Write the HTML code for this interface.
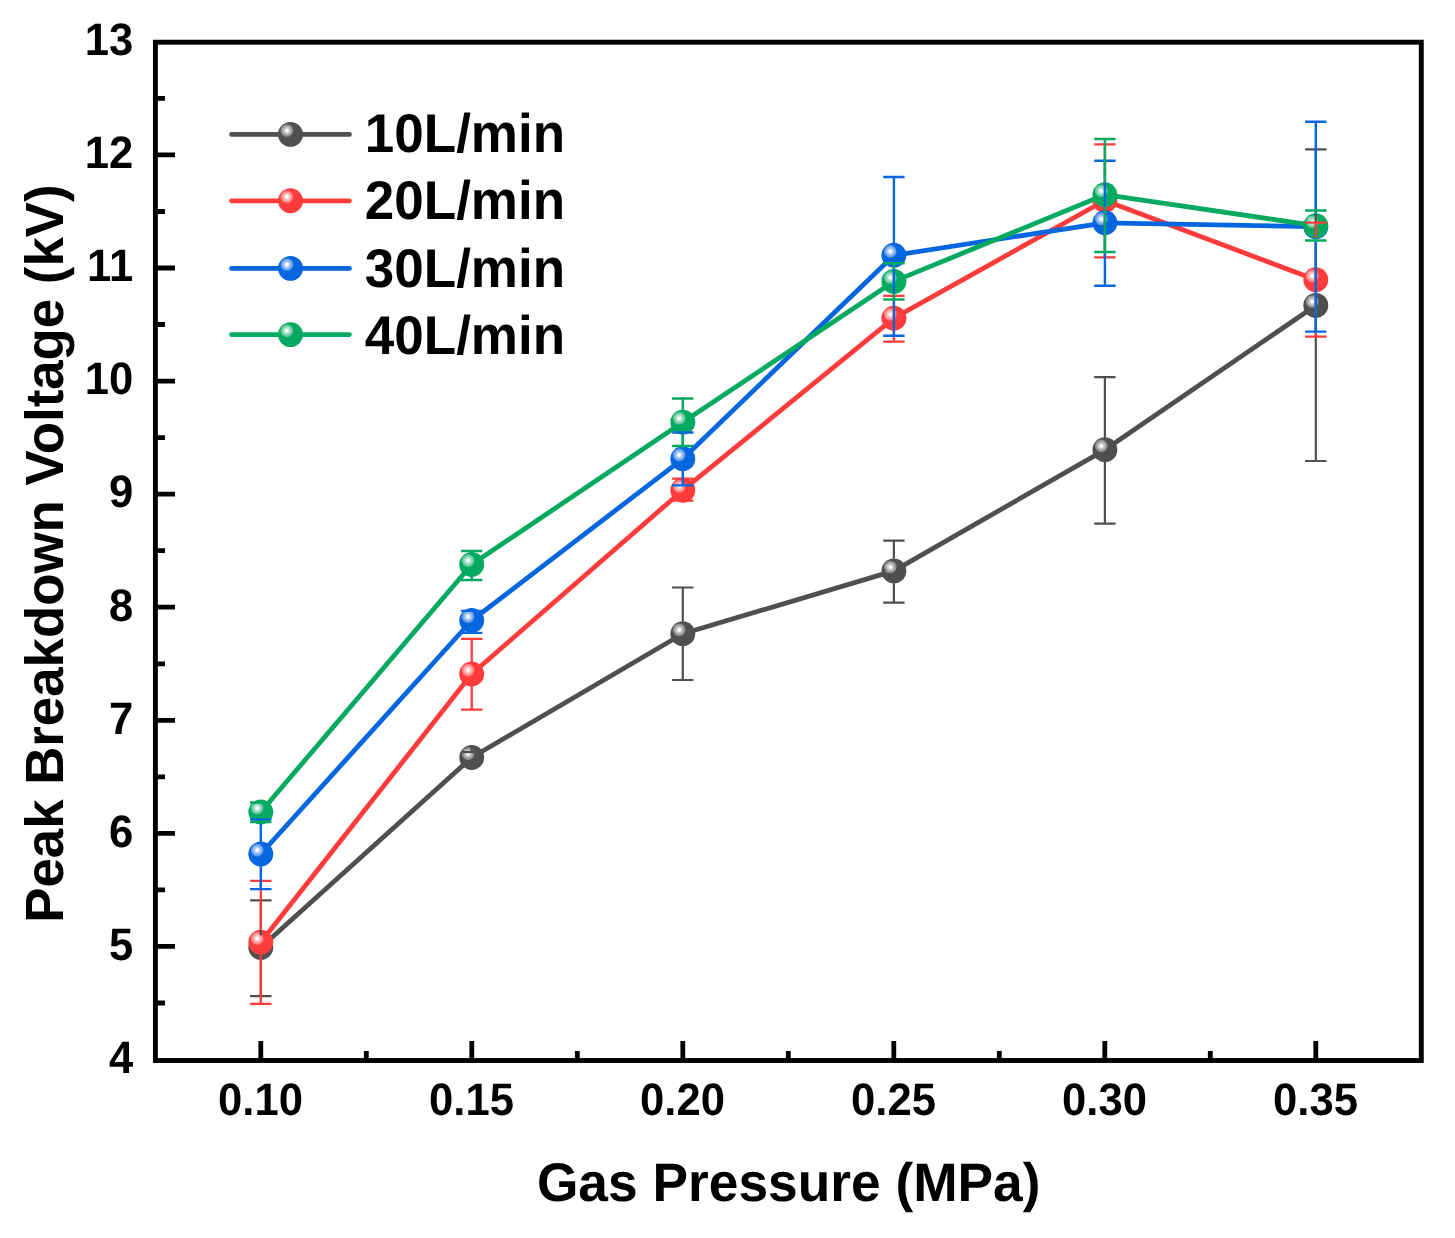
<!DOCTYPE html>
<html lang="en"><head><meta charset="utf-8">
<title>Peak Breakdown Voltage vs Gas Pressure</title>
<style>
html,body{margin:0;padding:0;background:#fff;}
body{width:1455px;height:1238px;overflow:hidden;}
svg{display:block;}
text{font-family:"Liberation Sans", Arial, Helvetica, sans-serif;font-weight:700;fill:#000;text-rendering:geometricPrecision;}
svg{will-change:transform;}
</style></head><body>
<svg width="1455" height="1238" viewBox="0 0 1455 1238">
<rect x="0" y="0" width="1455" height="1238" fill="#ffffff"/>
<defs>
<radialGradient id="hk" cx="50%" cy="50%" r="50%">
<stop offset="0" stop-color="#ffffff"/>
<stop offset="0.20" stop-color="#ffffff"/>
<stop offset="0.38" stop-color="#cacaca"/>
<stop offset="0.64" stop-color="#b5b5b5"/>
<stop offset="0.72" stop-color="#999999"/>
<stop offset="1" stop-color="#8d8d8d"/>
</radialGradient>
<g id="mk"><circle cx="0" cy="0" r="12.45" fill="#4f4f4f"/><circle cx="-3.6" cy="-3.9" r="6.3" fill="url(#hk)"/></g>
<radialGradient id="hr" cx="50%" cy="50%" r="50%">
<stop offset="0" stop-color="#ffffff"/>
<stop offset="0.20" stop-color="#ffffff"/>
<stop offset="0.38" stop-color="#ffc4c4"/>
<stop offset="0.64" stop-color="#ffadad"/>
<stop offset="0.72" stop-color="#ff8d8d"/>
<stop offset="1" stop-color="#ff8080"/>
</radialGradient>
<g id="mr"><circle cx="0" cy="0" r="12.45" fill="#ff3b3b"/><circle cx="-3.6" cy="-3.9" r="6.3" fill="url(#hr)"/></g>
<radialGradient id="hb" cx="50%" cy="50%" r="50%">
<stop offset="0" stop-color="#ffffff"/>
<stop offset="0.20" stop-color="#ffffff"/>
<stop offset="0.38" stop-color="#b4d1f6"/>
<stop offset="0.64" stop-color="#96bff2"/>
<stop offset="0.72" stop-color="#6fa6ed"/>
<stop offset="1" stop-color="#5d9ceb"/>
</radialGradient>
<g id="mb"><circle cx="0" cy="0" r="12.45" fill="#0666e0"/><circle cx="-3.6" cy="-3.9" r="6.3" fill="url(#hb)"/></g>
<radialGradient id="hg" cx="50%" cy="50%" r="50%">
<stop offset="0" stop-color="#ffffff"/>
<stop offset="0.20" stop-color="#ffffff"/>
<stop offset="0.38" stop-color="#b4e5cf"/>
<stop offset="0.64" stop-color="#96dbbc"/>
<stop offset="0.72" stop-color="#6ecda3"/>
<stop offset="1" stop-color="#5cc798"/>
</radialGradient>
<g id="mg"><circle cx="0" cy="0" r="12.45" fill="#05a960"/><circle cx="-3.6" cy="-3.9" r="6.3" fill="url(#hg)"/></g>
</defs>
<polyline points="260.8,947.5 471.7,757.5 682.8,633.7 893.9,570.9 1104.9,449.8 1315.8,305.4" fill="none" stroke="#4f4f4f" stroke-width="4.8" stroke-linejoin="round" stroke-linecap="round"/>
<use href="#mk" x="260.8" y="947.5"/>
<use href="#mk" x="471.7" y="757.5"/>
<use href="#mk" x="682.8" y="633.7"/>
<use href="#mk" x="893.9" y="570.9"/>
<use href="#mk" x="1104.9" y="449.8"/>
<use href="#mk" x="1315.8" y="305.4"/>
<polyline points="260.8,942.3 471.7,674.0 682.8,490.2 893.9,318.2 1104.9,200.5 1315.8,279.8" fill="none" stroke="#ff3b3b" stroke-width="4.8" stroke-linejoin="round" stroke-linecap="round"/>
<use href="#mr" x="260.8" y="942.3"/>
<use href="#mr" x="471.7" y="674.0"/>
<use href="#mr" x="682.8" y="490.2"/>
<use href="#mr" x="893.9" y="318.2"/>
<use href="#mr" x="1104.9" y="200.5"/>
<use href="#mr" x="1315.8" y="279.8"/>
<polyline points="260.8,854.0 471.7,620.5 682.8,458.8 893.9,255.3 1104.9,222.8 1315.8,226.7" fill="none" stroke="#0666e0" stroke-width="4.8" stroke-linejoin="round" stroke-linecap="round"/>
<use href="#mb" x="260.8" y="854.0"/>
<use href="#mb" x="471.7" y="620.5"/>
<use href="#mb" x="682.8" y="458.8"/>
<use href="#mb" x="893.9" y="255.3"/>
<use href="#mb" x="1104.9" y="222.8"/>
<use href="#mb" x="1315.8" y="226.7"/>
<polyline points="260.8,812.0 471.7,564.5 682.8,422.2 893.9,281.4 1104.9,194.7 1315.8,225.7" fill="none" stroke="#05a960" stroke-width="4.8" stroke-linejoin="round" stroke-linecap="round"/>
<use href="#mg" x="260.8" y="812.0"/>
<use href="#mg" x="471.7" y="564.5"/>
<use href="#mg" x="682.8" y="422.2"/>
<use href="#mg" x="893.9" y="281.4"/>
<use href="#mg" x="1104.9" y="194.7"/>
<use href="#mg" x="1315.8" y="225.7"/>
<path d="M260.8 900.3V935.4M260.8 959.6V996.1M250.1 900.3H271.5M250.1 996.1H271.5M471.7 752.1V745.4M471.7 769.6V762.9M461.0 752.1H482.4M461.0 762.9H482.4M682.8 587.5V621.6M682.8 645.9V680.0M672.1 587.5H693.5M672.1 680.0H693.5M893.9 540.7V558.8M893.9 583.0V602.7M883.2 540.7H904.6M883.2 602.7H904.6M1104.9 377.2V437.7M1104.9 461.9V523.7M1094.2 377.2H1115.6M1094.2 523.7H1115.6M1315.8 149.3V293.2M1315.8 317.5V461.0M1305.1 149.3H1326.5M1305.1 461.0H1326.5" fill="none" stroke="#4f4f4f" stroke-width="2.2"/>
<path d="M260.8 880.9V930.1M260.8 954.4V1003.8M250.1 880.9H271.5M250.1 1003.8H271.5M471.7 638.8V661.9M471.7 686.1V709.6M461.0 638.8H482.4M461.0 709.6H482.4M682.8 478.7V478.1M682.8 502.3V500.7M672.1 478.7H693.5M672.1 500.7H693.5M893.9 295.8V306.1M893.9 330.3V341.7M883.2 295.8H904.6M883.2 341.7H904.6M1104.9 144.4V188.3M1104.9 212.7V257.4M1094.2 144.4H1115.6M1094.2 257.4H1115.6M1315.8 222.7V267.7M1315.8 291.9V336.6M1305.1 222.7H1326.5M1305.1 336.6H1326.5" fill="none" stroke="#ff3b3b" stroke-width="2.3"/>
<path d="M260.8 819.4V841.9M260.8 866.1V889.1M250.1 819.4H271.5M250.1 889.1H271.5M471.7 610.9V608.4M461.0 610.9H482.4M461.0 632.9H482.4M682.8 432.5V446.7M682.8 470.9V485.4M672.1 432.5H693.5M672.1 485.4H693.5M893.9 177.0V243.2M893.9 267.4V335.7M883.2 177.0H904.6M883.2 335.7H904.6M1104.9 160.7V210.7M1104.9 235.0V285.7M1094.2 160.7H1115.6M1094.2 285.7H1115.6M1315.8 121.8V214.5M1315.8 238.8V331.6M1305.1 121.8H1326.5M1305.1 331.6H1326.5" fill="none" stroke="#0666e0" stroke-width="2.4"/>
<path d="M260.8 802.6V799.9M260.8 824.1V822.1M250.1 802.6H271.5M250.1 822.1H271.5M471.7 551.0V552.4M471.7 576.6V580.0M461.0 551.0H482.4M461.0 580.0H482.4M682.8 398.6V410.1M682.8 434.3V445.9M672.1 398.6H693.5M672.1 445.9H693.5M893.9 263.2V269.2M893.9 293.5V299.6M883.2 263.2H904.6M883.2 299.6H904.6M1104.9 138.9V182.5M1104.9 206.8V252.0M1094.2 138.9H1115.6M1094.2 252.0H1115.6M1315.8 210.6V213.5M1315.8 237.8V240.5M1305.1 210.6H1326.5M1305.1 240.5H1326.5" fill="none" stroke="#05a960" stroke-width="2.5"/>
<rect x="155.4" y="42.2" width="1265.9" height="1018.3" fill="none" stroke="#000" stroke-width="4.9"/>
<path d="M155.4 1003.0H165.0M155.4 946.4H175.0M155.4 889.9H165.0M155.4 833.4H175.0M155.4 776.8H165.0M155.4 720.3H175.0M155.4 663.8H165.0M155.4 607.2H175.0M155.4 550.7H165.0M155.4 494.2H175.0M155.4 437.6H165.0M155.4 381.1H175.0M155.4 324.5H165.0M155.4 268.0H175.0M155.4 211.5H165.0M155.4 154.9H175.0M155.4 98.4H165.0M260.8 1060.5V1040.9M471.8 1060.5V1040.9M682.8 1060.5V1040.9M893.8 1060.5V1040.9M1104.8 1060.5V1040.9M1315.8 1060.5V1040.9M366.3 1060.5V1050.9M577.3 1060.5V1050.9M788.3 1060.5V1050.9M999.3 1060.5V1050.9M1210.3 1060.5V1050.9" fill="none" stroke="#000" stroke-width="4.8"/>
<text transform="translate(133.20 1072.80) scale(1 1.045)" font-size="43.60" text-anchor="end">4</text>
<text transform="translate(133.20 959.73) scale(1 1.045)" font-size="43.60" text-anchor="end">5</text>
<text transform="translate(133.20 846.66) scale(1 1.045)" font-size="43.60" text-anchor="end">6</text>
<text transform="translate(133.20 733.59) scale(1 1.045)" font-size="43.60" text-anchor="end">7</text>
<text transform="translate(133.20 620.52) scale(1 1.045)" font-size="43.60" text-anchor="end">8</text>
<text transform="translate(133.20 507.45) scale(1 1.045)" font-size="43.60" text-anchor="end">9</text>
<text transform="translate(133.20 394.38) scale(1 1.045)" font-size="43.60" text-anchor="end">10</text>
<text transform="translate(133.20 281.31) scale(1 1.045)" font-size="43.60" text-anchor="end">11</text>
<text transform="translate(133.20 168.24) scale(1 1.045)" font-size="43.60" text-anchor="end">12</text>
<text transform="translate(133.20 55.17) scale(1 1.045)" font-size="43.60" text-anchor="end">13</text>
<text transform="translate(260.50 1114.90) scale(1 1.045)" font-size="43.60" text-anchor="middle">0.10</text>
<text transform="translate(471.50 1114.90) scale(1 1.045)" font-size="43.60" text-anchor="middle">0.15</text>
<text transform="translate(682.50 1114.90) scale(1 1.045)" font-size="43.60" text-anchor="middle">0.20</text>
<text transform="translate(893.50 1114.90) scale(1 1.045)" font-size="43.60" text-anchor="middle">0.25</text>
<text transform="translate(1104.50 1114.90) scale(1 1.045)" font-size="43.60" text-anchor="middle">0.30</text>
<text transform="translate(1315.50 1114.90) scale(1 1.045)" font-size="43.60" text-anchor="middle">0.35</text>
<text transform="translate(788.70 1201.30) scale(1 1.020)" font-size="53.30" text-anchor="middle">Gas Pressure (MPa)</text>
<text transform="translate(63.40 553.60) rotate(-90) scale(1 1.020)" font-size="52.80" text-anchor="middle">Peak Breakdown Voltage (kV)</text>
<line x1="231.5" y1="134.4" x2="349.5" y2="134.4" stroke="#4f4f4f" stroke-width="4.7" stroke-linecap="round"/>
<use href="#mk" x="290.5" y="134.4"/>
<text transform="translate(364.80 152.20) scale(1 1.030)" font-size="53.00" text-anchor="start">10L/min</text>
<line x1="231.5" y1="200.8" x2="349.5" y2="200.8" stroke="#ff3b3b" stroke-width="4.7" stroke-linecap="round"/>
<use href="#mr" x="290.5" y="200.8"/>
<text transform="translate(364.80 219.20) scale(1 1.030)" font-size="53.00" text-anchor="start">20L/min</text>
<line x1="231.5" y1="268.4" x2="349.5" y2="268.4" stroke="#0666e0" stroke-width="4.7" stroke-linecap="round"/>
<use href="#mb" x="290.5" y="268.4"/>
<text transform="translate(364.80 286.60) scale(1 1.030)" font-size="53.00" text-anchor="start">30L/min</text>
<line x1="231.5" y1="334.6" x2="349.5" y2="334.6" stroke="#05a960" stroke-width="4.7" stroke-linecap="round"/>
<use href="#mg" x="290.5" y="334.6"/>
<text transform="translate(364.80 353.70) scale(1 1.030)" font-size="53.00" text-anchor="start">40L/min</text>
</svg>
</body></html>
